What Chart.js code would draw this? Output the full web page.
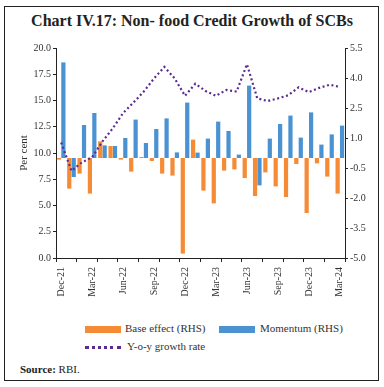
<!DOCTYPE html>
<html>
<head>
<meta charset="utf-8">
<script src="https://cdn.jsdelivr.net/npm/chart.js@4.4.1/dist/chart.umd.min.js"></script>
<style>
    html, body { margin: 0; padding: 0; background: #fff; }
    body { width: 384px; height: 387px; position: relative; overflow: hidden; font-family: "Liberation Serif", "DejaVu Serif", serif; }
    #frame { position: absolute; left: 4px; top: 6px; width: 375px; height: 375px; border: 1px solid #222; box-sizing: border-box; }
    #title { position: absolute; left: 0; top: 12px; width: 384px; text-align: center; font-size: 16px; font-weight: bold; color: #222; }
    #wrap { position: absolute; left: 0; top: 0; width: 384px; height: 318px; }
    .leg { position: absolute; font-size: 11px; color: #333; white-space: nowrap; }
    .sw { position: absolute; height: 7px; width: 36px; }
    #dots { position: absolute; left: 85px; top: 346px; width: 36px; border-top: 3px dotted #5b2c8f; }
    #source { position: absolute; left: 20px; top: 363px; font-size: 11px; color: #222; }
</style>
</head>
<body>
<div id="frame"></div>
<div id="title">Chart IV.17: Non- food Credit Growth of SCBs</div>
<div id="wrap"><canvas id="chart" width="384" height="318"></canvas></div>

<div class="sw" style="left:85px; top:326px; background:#f58b35;"></div>
<div class="leg" style="left:125px; top:322px;">Base effect (RHS)</div>
<div class="sw" style="left:219px; top:326px; background:#4a92d2;"></div>
<div class="leg" style="left:260px; top:322px;">Momentum (RHS)</div>
<div id="dots"></div>
<div class="leg" style="left:127px; top:340px;">Y-o-y growth rate</div>
<div id="source"><b>Source:</b> RBI.</div>

<script>
// meses Dec-21 .. Mar-24
const months = ['Dec-21', 'Jan-22', 'Feb-22', 'Mar-22', 'Apr-22', 'May-22', 'Jun-22', 'Jul-22', 'Aug-22', 'Sep-22',
    'Oct-22', 'Nov-22', 'Dec-22', 'Jan-23', 'Feb-23', 'Mar-23', 'Apr-23', 'May-23', 'Jun-23', 'Jul-23',
    'Aug-23', 'Sep-23', 'Oct-23', 'Nov-23', 'Dec-23', 'Jan-24', 'Feb-24', 'Mar-24'];

// base effect (RHS)
const baseEffect = [-0.08, -1.53, -0.78, -1.78, 0.83, 0.60, -0.08, -0.68, 0.05, -0.15,
    -0.78, -0.88, -4.78, 0.92, -1.63, -2.27, -0.63, -0.57, -1.00, -1.90,
    -0.72, -1.42, -1.95, -0.30, -2.75, -0.27, -0.93, -1.78];

// momentum (RHS)
const momentum = [4.78, -0.95, 1.65, 2.25, 0.63, 0.60, 1.00, 1.92, 0.75, 1.45,
    1.98, 0.28, 2.77, 0.27, 0.97, 1.82, 1.35, 0.17, 3.62, -1.37,
    0.97, 1.70, 2.12, 1.02, 2.28, 0.67, 1.18, 1.62];

// y-o-y growth (LHS)
const yoyGrowth = [11.0, 8.3, 9.1, 9.6, 11.1, 12.35, 13.8, 14.8, 15.85, 17.1,
    18.2, 17.1, 15.45, 16.6, 15.9, 15.45, 16.0, 15.85, 18.45, 15.2,
    14.95, 15.2, 15.5, 16.25, 15.8, 16.2, 16.5, 16.3];

const leftTicks = { min: 0, max: 20, step: 2.5 };
const rightTicks = { min: -5, max: 5.5, step: 1.5 };

document.addEventListener('DOMContentLoaded', () =>
{
    const tickFont = { family: '"Liberation Serif", "DejaVu Serif", serif', size: 10 };
    const ctx = document.getElementById('chart').getContext('2d');

    new Chart(ctx, {
        data: {
            labels: months,
            datasets: [
                {
                    type: 'line',
                    label: 'Y-o-y growth rate',
                    data: yoyGrowth,
                    yAxisID: 'y',
                    borderColor: '#5b2c8f',
                    borderWidth: 2.2,
                    borderDash: [2, 2.6],
                    pointRadius: 0,
                    tension: 0,
                    order: 0
                },
                {
                    type: 'bar',
                    label: 'Base effect (RHS)',
                    data: baseEffect,
                    yAxisID: 'y1',
                    backgroundColor: '#f58b35',
                    barPercentage: 0.95,
                    categoryPercentage: 0.86,
                    order: 1
                },
                {
                    type: 'bar',
                    label: 'Momentum (RHS)',
                    data: momentum,
                    yAxisID: 'y1',
                    backgroundColor: '#4a92d2',
                    barPercentage: 0.95,
                    categoryPercentage: 0.86,
                    order: 1
                }
            ]
        },
        options: {
            responsive: false,
            animation: false,
            layout: { padding: { top: 48, left: 0, right: 0, bottom: 0 } },
            plugins: { legend: { display: false }, tooltip: { enabled: false } },
            scales: {
                x: {
                    offset: true,
                    border: { display: true, color: '#222', width: 1 },
                    grid: {
                        offset: true,
                        drawOnChartArea: false,
                        drawTicks: true,
                        tickLength: 4,
                        tickColor: (c) => (c.index === undefined || c.index % 2 === 0) ? '#222' : 'rgba(0,0,0,0)'
                    },
                    ticks: {
                        autoSkip: false,
                        maxRotation: 90,
                        minRotation: 90,
                        padding: 5,
                        color: '#333',
                        font: tickFont,
                        callback: function (val, i) { return i % 3 === 0 ? months[i] : ''; }
                    },
                    afterFit: (s) => { s.height = 318 - 258; }
                },
                y: {
                    position: 'left',
                    min: leftTicks.min,
                    max: leftTicks.max,
                    border: { display: true, color: '#222', width: 1 },
                    grid: { drawOnChartArea: false, drawTicks: true, tickLength: 3, tickColor: '#222' },
                    ticks: {
                        stepSize: leftTicks.step,
                        color: '#333',
                        font: tickFont,
                        padding: 2,
                        callback: (v) => v.toFixed(1)
                    },
                    title: {
                        display: true,
                        text: 'Per cent',
                        color: '#333',
                        font: { family: '"Liberation Serif", "DejaVu Serif", serif', size: 11 },
                        padding: { top: 18, bottom: 0 }
                    },
                    afterFit: (s) => { s.width = 56; }
                },
                y1: {
                    position: 'right',
                    min: rightTicks.min,
                    max: rightTicks.max,
                    border: { display: true, color: '#222', width: 1 },
                    grid: { drawOnChartArea: false, drawTicks: true, tickLength: 3, tickColor: '#222' },
                    ticks: {
                        stepSize: rightTicks.step,
                        color: '#333',
                        font: tickFont,
                        padding: 2,
                        callback: (v) => v.toFixed(1)
                    },
                    afterFit: (s) => { s.width = 384 - 345; }
                }
            }
        }
    });
});
</script>
</body>
</html>
